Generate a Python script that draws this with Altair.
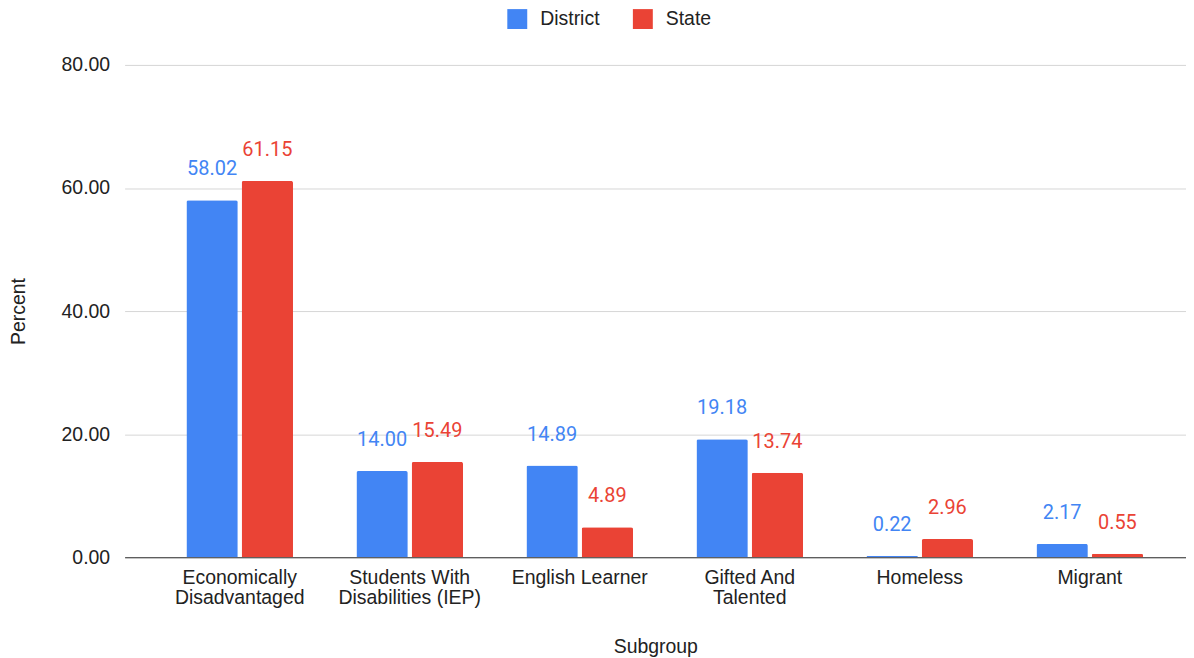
import altair as alt
import pandas as pd

categories = ["Economically Disadvantaged", "Students With Disabilities (IEP)",
              "English Learner", "Gifted And Talented", "Homeless", "Migrant"]
label_lines = [["Economically", "Disadvantaged"], ["Students With", "Disabilities (IEP)"],
               ["English Learner"], ["Gifted And", "Talented"], ["Homeless"], ["Migrant"]]
series = ["District", "State"]
district = [58.02, 14.00, 14.89, 19.18, 0.22, 2.17]
state = [61.15, 15.49, 4.89, 13.74, 2.96, 0.55]
colors = ["#4285F4", "#EA4335"]

rows = []
for c, d, s in zip(categories, district, state):
    rows.append({"Subgroup": c, "Series": "District", "Percent": d})
    rows.append({"Subgroup": c, "Series": "State", "Percent": s})
df = pd.DataFrame(rows)

expr = "datum.label"
for c, lines in reversed(list(zip(categories, label_lines))):
    arr = "[" + ",".join("'" + l + "'" for l in lines) + "]"
    expr = f"datum.value == '{c}' ? {arr} : ({expr})"

FS = 19.5
x = alt.X("Subgroup:N", sort=categories, title="Subgroup",
          scale=alt.Scale(paddingInner=0.373, paddingOuter=0.308, align=0.59),
          axis=alt.Axis(labelAngle=0, labelExpr=expr, labelFontSize=FS, labelColor="#222222",
                        labelFont="Liberation Sans", labelLineHeight=20, labelPadding=11,
                        titleFont="Liberation Sans", titleFontSize=FS, titleFontWeight="normal",
                        titleColor="#222222", titlePadding=31, ticks=False,
                        domainColor="#333333", domainWidth=1.2))
xo = alt.XOffset("Series:N", sort=series, scale=alt.Scale(paddingInner=0.07))
y = alt.Y("Percent:Q", scale=alt.Scale(domain=[0, 80]), title="Percent",
          axis=alt.Axis(values=[0, 20, 40, 60, 80], format=".2f", labelFontSize=FS,
                        labelColor="#222222", labelFont="Liberation Sans", labelPadding=15,
                        titleFont="Liberation Sans", titleFontSize=FS, titleFontWeight="normal",
                        titleColor="#222222", titlePadding=33, ticks=False, domain=False,
                        gridColor="#d6d6d6", gridWidth=1))
color_scale = alt.Scale(domain=series, range=colors)

bars = alt.Chart(df).mark_bar(cornerRadiusTopLeft=2, cornerRadiusTopRight=2).encode(
    x=x, xOffset=xo, y=y,
    color=alt.Color("Series:N", scale=color_scale, sort=series,
                    legend=alt.Legend(title=None, orient="none", direction="horizontal",
                                      legendX=384, legendY=-56, symbolType="square",
                                      symbolSize=400, symbolStrokeWidth=0, labelFontSize=FS,
                                      labelFont="Liberation Sans", labelColor="#222222",
                                      columnPadding=33, labelOffset=13))
)

labels = alt.Chart(df).mark_text(baseline="middle", dy=-31, fontSize=20, font="Roboto").encode(
    x=alt.X("Subgroup:N", sort=categories), xOffset=xo, y=alt.Y("Percent:Q"),
    text=alt.Text("Percent:Q", format=".2f"),
    color=alt.Color("Series:N", scale=color_scale, legend=None)
)

chart = (bars + labels).properties(
    width=1065, height=494,
    padding={"left": 0, "top": 0, "right": 0, "bottom": 0}
).configure_view(stroke=None).configure_axis(grid=True).configure_axisX(grid=False)

chart.save("out.html", embed_options={"renderer": "svg", "actions": False})
